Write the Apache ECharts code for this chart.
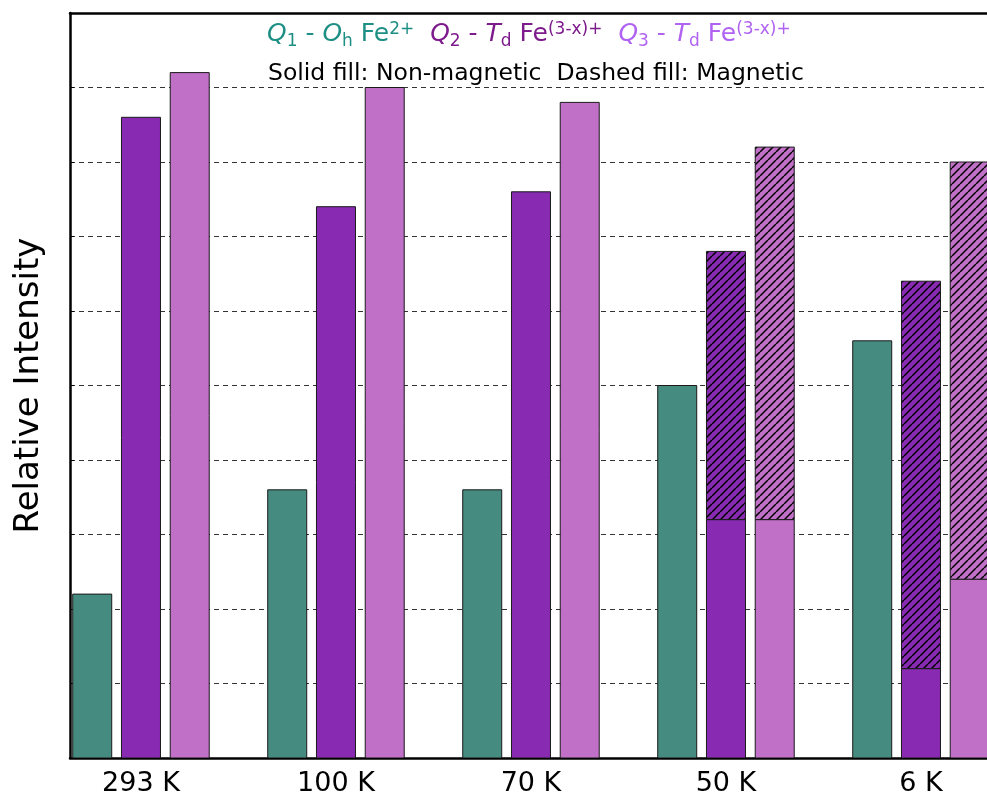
<!DOCTYPE html>
<html>
<head>
<meta charset="utf-8">
<script src="https://cdn.jsdelivr.net/npm/echarts@6/dist/echarts.min.js"></script>
<style>
  html, body { margin: 0; padding: 0; background: #fff; }
  #chart { width: 987px; height: 797px; }
</style>
</head>
<body>
<div id="chart"></div>
<script>
// Temperatures along the x axis
const temperatures = ['293 K', '100 K', '70 K', '50 K', '6 K'];

// Relative intensity of each site, split into non-magnetic (solid) and magnetic (hatched) parts
const q1NonMagnetic = [2.2, 3.6, 3.6, 5.0, 5.6];
const q1Magnetic    = [0, 0, 0, 0, 0];
const q2NonMagnetic = [8.6, 7.4, 7.6, 3.2, 1.2];
const q2Magnetic    = [0, 0, 0, 3.6, 5.2];
const q3NonMagnetic = [9.2, 9.0, 8.8, 3.2, 2.4];
const q3Magnetic    = [0, 0, 0, 5.0, 5.6];

// Y axis: unlabeled ticks every unit
const yTicks = [0, 1, 2, 3, 4, 5, 6, 7, 8, 9, 10];

const FONT = '"DejaVu Sans", "Liberation Sans", sans-serif';

// Diagonal hatch tile used for the magnetic part of a bar
function makeHatch() {
  const s = 8;
  const c = document.createElement('canvas');
  c.width = s; c.height = s;
  const ctx = c.getContext('2d');
  ctx.strokeStyle = '#000';
  ctx.lineWidth = 1.5;
  for (const k of [-s, 0, s]) {
    ctx.beginPath();
    ctx.moveTo(k, s);
    ctx.lineTo(k + s, 0);
    ctx.stroke();
  }
  return c;
}
const hatch = makeHatch();

const BAR_W = 0.2;       // bar width in category units
const OFFSET = 0.25;     // spacing between sites within a temperature group
const X_MIN = -0.364;
const X_MAX = X_MIN + 917 / 195;

function barSeries(name, solid, magnetic, color, shift) {
  return {
    type: 'custom',
    name: name,
    clip: true,
    encode: { x: 0, y: 1 },
    data: temperatures.map((t, i) => [i + shift, solid[i], magnetic[i]]),
    renderItem: function (params, api) {
      const x = api.value(0);
      const s = api.value(1);
      const m = api.value(2);
      const w = api.size([BAR_W, 0])[0];
      const p0 = api.coord([x, 0]);
      const p1 = api.coord([x, s]);
      const left = p0[0] - w / 2;
      const children = [{
        type: 'rect',
        shape: { x: left, y: p1[1], width: w, height: p0[1] - p1[1] },
        style: { fill: color, stroke: '#1a1a1a', lineWidth: 1 }
      }];
      if (m > 0) {
        const p2 = api.coord([x, s + m]);
        const shape = { x: left, y: p2[1], width: w, height: p1[1] - p2[1] };
        children.push({ type: 'rect', shape: shape, style: { fill: color } });
        children.push({
          type: 'rect', shape: shape,
          style: { fill: { image: hatch, repeat: 'repeat' }, stroke: '#1a1a1a', lineWidth: 1 }
        });
      }
      return { type: 'group', children: children };
    }
  };
}

// Rich text styles for the site key
function richSet(key, color) {
  const base = { fontFamily: FONT, fontWeight: 'normal', color: color };
  const r = {};
  r['i' + key] = Object.assign({ fontStyle: 'italic', fontSize: 25, lineHeight: 32 }, base);
  r['n' + key] = Object.assign({ fontSize: 25, lineHeight: 32 }, base);
  r['b' + key] = Object.assign({ fontSize: 17, lineHeight: 17, verticalAlign: 'bottom' }, base);
  r['p' + key] = Object.assign({ fontSize: 17, lineHeight: 17, verticalAlign: 'top', padding: [3, 0, 0, 0] }, base);
  return r;
}
const C1 = '#1e8f84', C2 = '#7d1a8c', C3 = '#b062f0';
const rich = Object.assign({}, richSet('A', C1), richSet('B', C2), richSet('C', C3));

const keyText =
  '{iA|Q}{bA|1}{nA| - }{iA|O}{bA|h}{nA| Fe}{pA|2+}{nA|  }' +
  '{iB|Q}{bB|2}{nB| - }{iB|T}{bB|d}{nB| Fe}{pB|(3-x)+}{nB|  }' +
  '{iC|Q}{bC|3}{nC| - }{iC|T}{bC|d}{nC| Fe}{pC|(3-x)+}';

const chart = echarts.init(document.getElementById('chart'), null, { renderer: 'canvas' });

const frameLine = { show: true, onZero: false, lineStyle: { color: '#000', width: 2.5 } };

chart.setOption({
  backgroundColor: '#fff',
  animation: false,
  title: [
    { text: keyText, left: 267, top: 18, padding: 0, textStyle: { fontWeight: 'normal', rich: rich } },
    {
      text: 'Solid fill: Non-magnetic  Dashed fill: Magnetic',
      left: 268, top: 62, padding: 0,
      textStyle: { fontFamily: FONT, fontSize: 23.5, fontWeight: 'normal', color: '#000' }
    }
  ],
  grid: { left: 70, right: 0, top: 13, bottom: 39, show: false },
  xAxis: [
    {
      type: 'value',
      min: X_MIN,
      max: X_MAX,
      axisLine: frameLine,
      axisTick: { show: false },
      splitLine: { show: false },
      axisLabel: {
        customValues: temperatures.map((t, i) => i),
        formatter: v => temperatures[Math.round(v)],
        fontFamily: FONT, fontSize: 27, color: '#000', margin: 12
      }
    },
    {
      // top frame line
      type: 'value', position: 'top', min: X_MIN, max: X_MAX,
      axisLine: frameLine, axisTick: { show: false },
      axisLabel: { show: false }, splitLine: { show: false }
    }
  ],
  yAxis: {
    type: 'value',
    min: yTicks[0],
    max: yTicks[yTicks.length - 1],
    interval: 1,
    name: 'Relative Intensity',
    nameLocation: 'middle',
    nameGap: 24,
    nameTextStyle: { fontFamily: FONT, fontSize: 34, color: '#000' },
    axisLine: frameLine,
    axisTick: { show: true, inside: true, length: 4, lineStyle: { color: '#000', width: 1 } },
    axisLabel: { show: false },
    splitLine: { show: true, lineStyle: { color: '#333', width: 1, type: [5, 4] } }
  },
  series: [
    barSeries('Q1', q1NonMagnetic, q1Magnetic, '#468b80', -OFFSET),
    barSeries('Q2', q2NonMagnetic, q2Magnetic, '#882ab2', 0),
    barSeries('Q3', q3NonMagnetic, q3Magnetic, '#c070c6', OFFSET)
  ]
});
</script>
</body>
</html>
